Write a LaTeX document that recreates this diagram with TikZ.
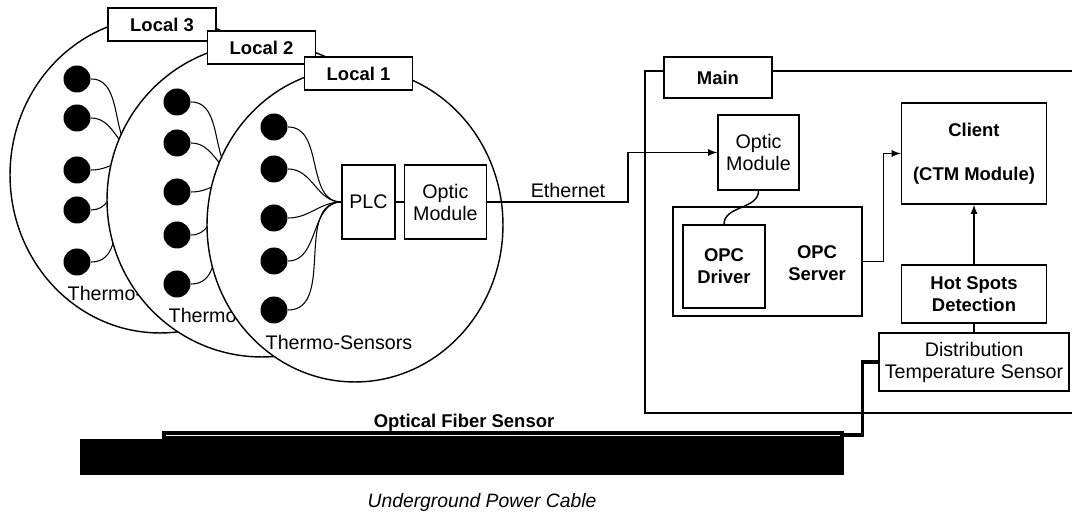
\documentclass[tikz,border=0pt]{standalone}
\usepackage{fontspec}
\setmainfont{Liberation Sans}
\usetikzlibrary{positioning}
\newcommand{\dfont}{\fontsize{10.5}{12.5}\selectfont}
\newcommand{\rfont}{\fontsize{11.2}{12.5}\selectfont}

\begin{document}
\begin{tikzpicture}[x=0.02cm, y=-0.02cm, line width=0.8pt,
    every node/.style={font=\rfont},
    box/.style={draw, fill=white, align=center, inner sep=1pt},
    tag/.style={box, font=\dfont\bfseries, minimum width=2.16cm, minimum height=0.66cm},
    sensor/.style={circle, fill=black, minimum size=0.54cm, inner sep=0pt},
    wire/.style={line width=0.6pt}]
    \useasboundingbox (0,0) rectangle (1072,516);

    % local stations, back to front
    \draw[fill=white] (160,175) ellipse [x radius=3cm, y radius=3.16cm];
    \coordinate (hub3) at (143,155);
    \foreach \i/\y in {1/79,2/118,3/170,4/210,5/262} {
        \node[sensor] (c\i) at (77,\y) {};
        \draw[wire] (c\i.east) to[out=0,in=180] (hub3);
    }
    \node (th3) at (141,293) {Thermo-Sensors};
    \node[tag] (loc3) at (162,24.5) {Local 3};

    \draw[fill=white] (262,200) ellipse [x radius=3.1cm, y radius=3.14cm];
    \coordinate (hub2) at (243,177);
    \foreach \i/\y in {1/102,2/143,3/192,4/235,5/284} {
        \node[sensor] (b\i) at (177,\y) {};
        \draw[wire] (b\i.east) to[out=0,in=180] (hub2);
    }
    \node (th2) at (242,315) {Thermo-Sensors};
    \node[tag] (loc2) at (261.5,47.5) {Local 2};

    \draw[fill=white] (355,225) ellipse [x radius=2.96cm, y radius=3.14cm];
    \node[box, minimum width=1.06cm, minimum height=1.48cm] (plc) at (368.5,202) {PLC};
    \node[box, minimum width=1.64cm, minimum height=1.48cm, right=0.16cm of plc] (optL) {Optic\\Module};
    \draw (plc) -- (optL);
    \foreach \i/\y in {1/127,2/169,3/218,4/261,5/310} {
        \node[sensor] (a\i) at (274,\y) {};
        \draw[wire] (a\i.east) to[out=0,in=180] (plc.west);
    }
    \node (th1) at (339,342) {Thermo-Sensors};
    \node[tag] (loc1) at (358.5,73.5) {Local 1};

    % main station
    \draw (1072,71) -- (645,71) -- (645,413) -- (1072,413);
    \node[tag, minimum height=0.82cm] (main) at (718,77.5) {Main};
    \node[box, minimum width=1.62cm, minimum height=1.5cm] (optM) at (758.5,152.5) {Optic\\Module};
    \node[box, minimum width=3.78cm, minimum height=2.18cm] (srv) at (767.5,261.5) {};
    \node[box, font=\dfont\bfseries, minimum width=1.64cm, minimum height=1.66cm] (drv) at (724,266.5) {OPC\\Driver};
    \node[font=\dfont\bfseries, align=center] (srvlbl) at (817,263) {OPC\\Server};
    \node[box, font=\dfont\bfseries, minimum width=2.9cm, minimum height=2.02cm] (cli) at (974,153.5) {Client\\[12.5pt](CTM Module)};
    \node[box, font=\dfont\bfseries, minimum width=2.9cm, minimum height=1.16cm] (hot) at (974,294) {Hot Spots\\Detection};
    \node[box, minimum width=3.8cm, minimum height=1.16cm] (dts) at (974,362) {Distribution\\Temperature Sensor};

    \coordinate (eth) at (628,202);
    \draw[-latex] (optL.east) -- (eth) |- (optM.west);
    \node (ethlbl) at (568,190) {Ethernet};
    \draw (optM.south) to[out=-90,in=90] (drv.north);
    \draw[-latex] (srv.east) -- ++(21,0) |- (cli.west);
    \draw[-latex] (hot) -- (cli);
    \draw (dts) -- (hot);

    % cable and fiber
    \fill (80,439) rectangle (844,475);
    \fill (162,431) rectangle (844,439);
    \draw[white, line width=0.5pt] (166,435.5) -- (840,435.5);
    \coordinate (fend) at (844,435);
    \draw[line width=1.8pt] (dts.west) -- ++(-16,0) |- (fend);
    \node[font=\dfont\bfseries] (fiber) at (464,423) {Optical Fiber Sensor};
    \node[font=\fontsize{11}{13}\selectfont\itshape] (cable) at (482,503) {Underground Power Cable};
\end{tikzpicture}
\end{document}
